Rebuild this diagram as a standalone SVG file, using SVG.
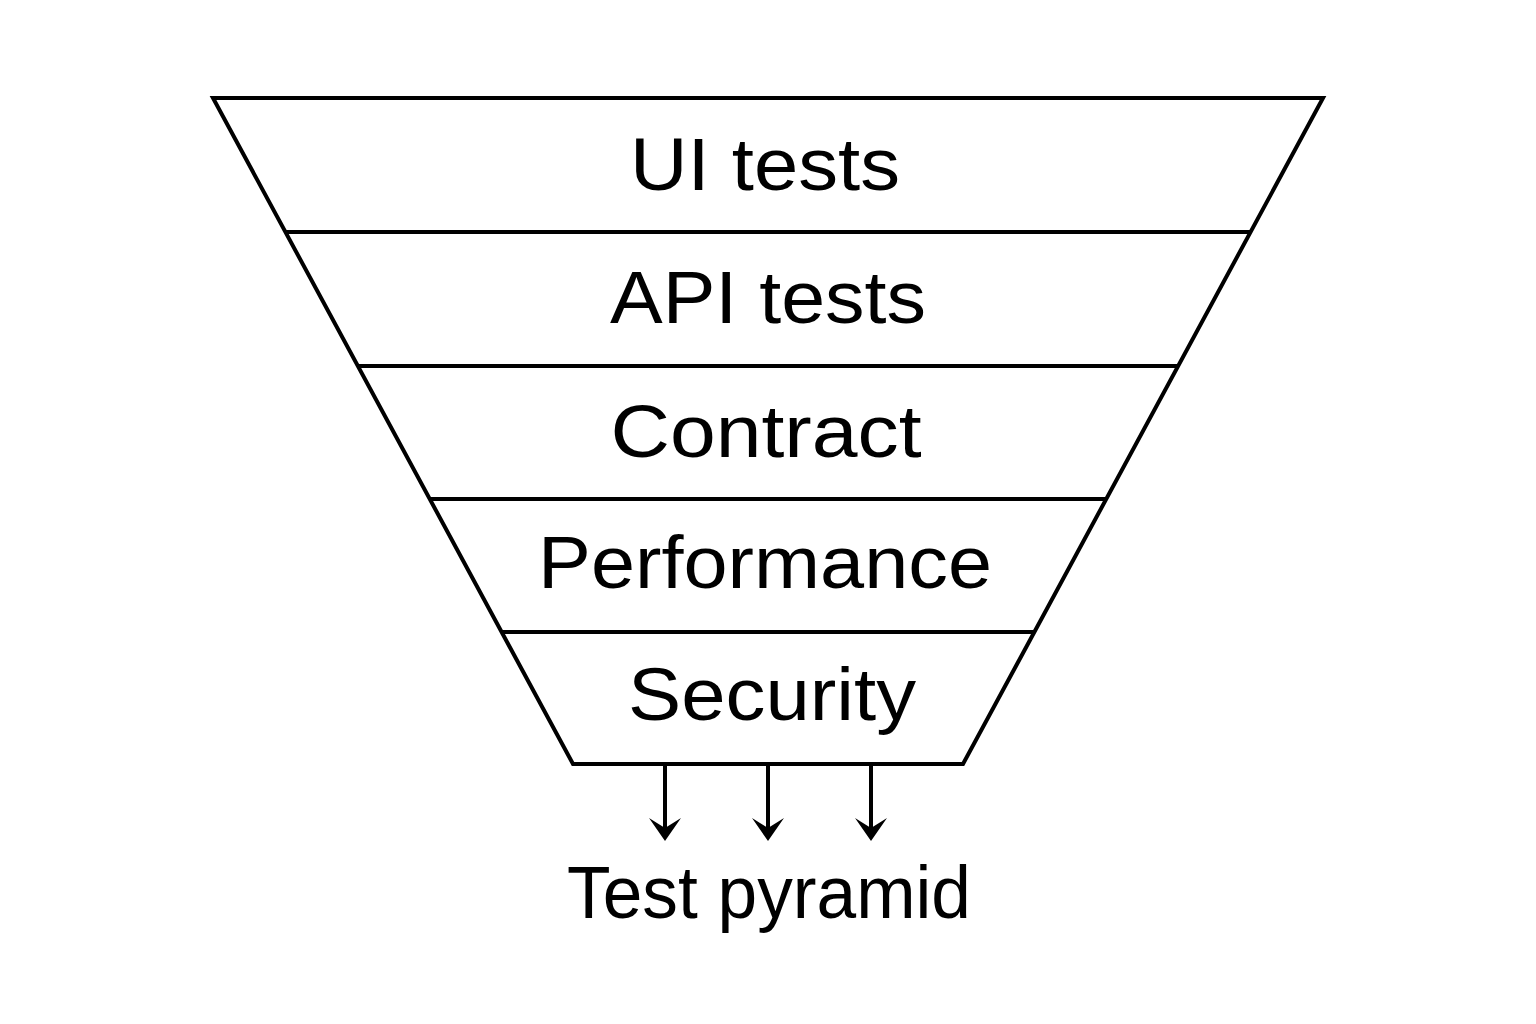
<svg xmlns="http://www.w3.org/2000/svg" width="1536" height="1024" viewBox="0 0 1536 1024">
<style>
.ln{stroke:#000;stroke-width:4;fill:none;stroke-linejoin:miter}
.t{font-family:"Liberation Sans",Arial,sans-serif;font-size:74px;fill:#000;text-anchor:middle}
.ah{fill:#000}
</style>
<defs>
<polygon id="head" points="-16,-10 0,0 16,-10 0,13"/>
</defs>
<rect width="1536" height="1024" fill="#fff"/>
<g id="funnel">
<polygon class="ln" points="213,98 1323,98 963,764 573,764"/>
</g>
<g id="layer-ui"><line class="ln" x1="285.4" y1="232" x2="1250.6" y2="232"/><text class="t" x="765" y="190" textLength="270" lengthAdjust="spacingAndGlyphs">UI tests</text></g>
<g id="layer-api"><line class="ln" x1="357.8" y1="366" x2="1178.2" y2="366"/><text class="t" x="768" y="323" textLength="316" lengthAdjust="spacingAndGlyphs">API tests</text></g>
<g id="layer-contract"><line class="ln" x1="429.7" y1="499" x2="1106.3" y2="499"/><text class="t" x="766" y="457" textLength="311" lengthAdjust="spacingAndGlyphs">Contract</text></g>
<g id="layer-performance"><line class="ln" x1="501.6" y1="632" x2="1034.4" y2="632"/><text class="t" x="765" y="588" textLength="454" lengthAdjust="spacingAndGlyphs">Performance</text></g>
<g id="layer-security"><text class="t" x="772" y="720" textLength="288" lengthAdjust="spacingAndGlyphs">Security</text></g>
<g id="connectors">
<line class="ln" x1="665" y1="764" x2="665" y2="830"/>
<use href="#head" class="ah" x="665" y="828"/>
<line class="ln" x1="768" y1="764" x2="768" y2="830"/>
<use href="#head" class="ah" x="768" y="828"/>
<line class="ln" x1="871" y1="764" x2="871" y2="830"/>
<use href="#head" class="ah" x="871" y="828"/>
</g>
<g id="label"><text class="t" x="769" y="918" textLength="404" lengthAdjust="spacingAndGlyphs">Test pyramid</text></g>
</svg>
